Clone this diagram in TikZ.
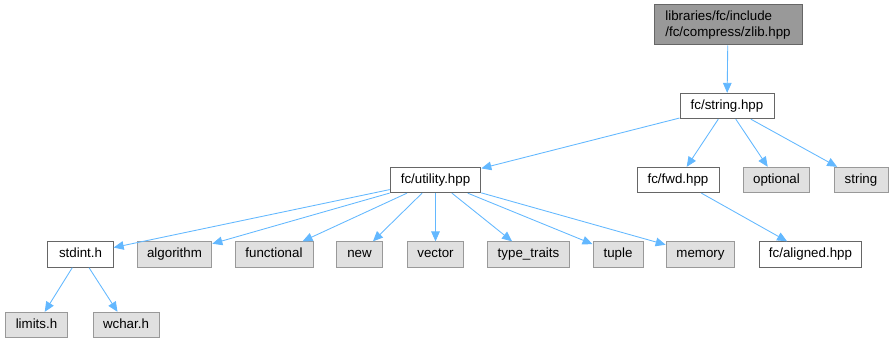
\documentclass[tikz,border=0pt]{standalone}
\usepackage{fontspec}
\setmainfont{Liberation Sans}
\usetikzlibrary{arrows.meta}
\definecolor{edgeblue}{HTML}{63B8FF}
\definecolor{rootfill}{HTML}{999999}
\definecolor{boxline}{HTML}{666666}
\definecolor{leaffill}{HTML}{E0E0E0}
\definecolor{leafline}{HTML}{999999}

\begin{document}
\begin{tikzpicture}[x=0.75pt,y=-0.75pt,every node/.style={font=\fontsize{10}{12}\selectfont,inner sep=0pt,minimum height=19pt},
  filebox/.style={draw=boxline,fill=white,line width=0.75pt,text height=7.4pt,text depth=2.2pt},
  rootbox/.style={draw=boxline,fill=rootfill,line width=0.75pt,align=left,minimum height=30pt},
  leaf/.style={draw=leafline,fill=leaffill,line width=0.75pt,text height=7.4pt,text depth=2.2pt},
  dep/.style={draw=edgeblue,line width=0.65pt,-{Triangle[length=7.5pt,width=6.5pt]}}]
\useasboundingbox (0,0) rectangle (893,346);
\node[rootbox,minimum width=111pt] (zlib) at (728,25) {libraries/fc/include\\/fc/compress/zlib.hpp};
\node[filebox,minimum width=70.5pt] (fcstring) at (727,106) {fc/string.hpp};
% third row
\node[filebox,minimum width=68pt] (utility) at (435.5,180) {fc/utility.hpp};
\node[filebox,minimum width=61.5pt] (fwd) at (678,180) {fc/fwd.hpp};
\node[leaf,minimum width=50pt] (optional) at (776.5,180) {optional};
\node[leaf,minimum width=40.5pt] (stdstring) at (861,180) {string};
% fourth row
\node[filebox,minimum width=49pt] (stdint) at (80.5,254.5) {stdint.h};
\node[leaf,minimum width=56pt] (algorithm) at (174.5,254.5) {algorithm};
\node[leaf,minimum width=58.5pt] (functional) at (274,254.5) {functional};
\node[leaf,minimum width=35pt] (new) at (359.5,254.5) {new};
\node[leaf,minimum width=42.5pt] (vector) at (435.5,254.5) {vector};
\node[leaf,minimum width=62pt] (typetraits) at (528.5,254.5) {type\_traits};
\node[leaf,minimum width=37.5pt] (tuple) at (618,254.5) {tuple};
\node[leaf,minimum width=51.5pt] (memory) at (700.5,254.5) {memory};
\node[filebox,minimum width=77pt] (aligned) at (810.5,254.5) {fc/aligned.hpp};
% last row
\node[leaf,minimum width=47pt] (limits) at (36.5,325) {limits.h};
\node[leaf,minimum width=49.5pt] (wchar) at (126,325) {wchar.h};
\foreach \a/\b in {zlib/fcstring,fcstring/utility,fcstring/fwd,fcstring/optional,fcstring/stdstring,
  utility/stdint,utility/algorithm,utility/functional,utility/new,utility/vector,utility/typetraits,utility/tuple,utility/memory,
  fwd/aligned,stdint/limits,stdint/wchar}{\draw[dep] (\a)--(\b);}
\end{tikzpicture}
\end{document}
